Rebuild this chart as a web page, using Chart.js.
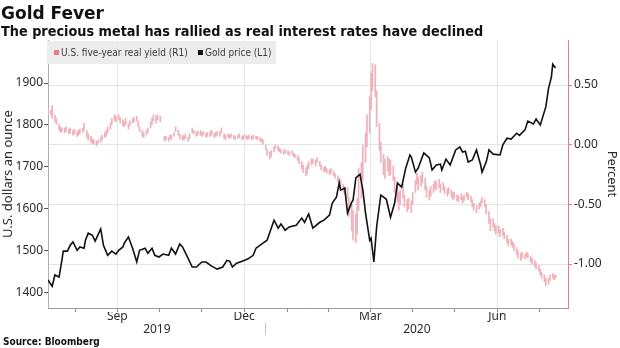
<!DOCTYPE html>
<html>
<head>
<meta charset="utf-8">
<title>Gold Fever</title>
<script src="https://cdn.jsdelivr.net/npm/chart.js@4.4.1/dist/chart.umd.min.js"></script>
<style>
  html, body { margin: 0; padding: 0; background: #fff; }
  #frame { position: relative; width: 620px; height: 348px; overflow: hidden; }
  #chart { position: absolute; left: 0; top: 0; }
  .headline { position: absolute; left: 1px; top: 5px; font: bold 17px "DejaVu Sans", sans-serif; line-height: 17px; color: #111; white-space: nowrap; }
  .dek { position: absolute; left: 1px; top: 24px; font: bold 14.3px "DejaVu Sans Condensed", "DejaVu Sans", sans-serif; line-height: 14.5px; color: #111; white-space: nowrap; }
  .source { position: absolute; left: 3px; top: 337px; font: bold 10px "DejaVu Sans Condensed", "DejaVu Sans", sans-serif; line-height: 10px; color: #111; white-space: nowrap; }
  .legend { position: absolute; left: 47px; top: 41px; width: 229px; height: 23px; background: #ececec; font: 10px "DejaVu Sans Condensed", "DejaVu Sans", sans-serif; color: #3c3c3c; }
  .legend .sw { position: absolute; top: 9px; width: 5px; height: 5px; }
  .legend .txt { position: absolute; top: 0; line-height: 23px; white-space: nowrap; }
</style>
</head>
<body>
<div id="frame">
  <canvas id="chart" width="620" height="348"></canvas>
  <div class="headline">Gold Fever</div>
  <div class="dek">The precious metal has rallied as real interest rates have declined</div>
  <div class="legend">
    <span class="sw" style="left:7px;background:#e27d8a"></span><span class="txt" style="left:14px">U.S. five-year real yield (R1)</span>
    <span class="sw" style="left:151px;background:#111"></span><span class="txt" style="left:158px">Gold price (L1)</span>
  </div>
  <div class="source">Source: Bloomberg</div>
</div>
<script>
// days are counted from 1 Aug 2019
const origin = Date.UTC(2019, 7, 1);
const dayOf = s => (Date.parse(s) - origin) / 864e5;

// gold price, USD an ounce (left axis)
const goldDay = [
  -4, -1, 1, 4, 6, 7, 10, 12, 14, 17, 19, 22, 23, 25, 28, 30, 34, 36, 39, 42,
  45, 47, 50, 51, 54, 57, 60, 62, 66, 68, 71, 73, 76, 79, 83, 85, 88, 91, 93, 96,
  100, 103, 107, 110, 114, 118, 122, 125, 127, 129, 132, 136, 140, 144, 146, 150, 154, 159, 162, 164,
  167, 170, 175, 179, 181, 184, 187, 192, 195, 199, 201, 204, 206, 207, 210, 212, 215, 216, 218, 221,
  223, 225, 228, 229, 231, 233, 236, 238, 240, 243, 246, 248, 251, 254, 257, 258, 261, 263, 267, 271,
  273, 276, 279, 280, 283, 286, 290, 293, 295, 297, 299, 302, 305, 308, 309, 312, 314, 317, 322, 324,
  327, 330, 334, 336, 340, 342, 346, 348, 351, 355, 357, 359, 360, 362
];
const goldPrice = [
  1429, 1414, 1441, 1436, 1476, 1498, 1498, 1512, 1520, 1500, 1508, 1505, 1524, 1541, 1536, 1522, 1551, 1512, 1488, 1498,
  1491, 1500, 1508, 1517, 1532, 1505, 1472, 1500, 1505, 1493, 1505, 1488, 1484, 1491, 1488, 1505, 1491, 1515, 1508, 1488,
  1460, 1460, 1472, 1472, 1462, 1455, 1460, 1476, 1474, 1460, 1469, 1474, 1479, 1488, 1505, 1515, 1524, 1572, 1553, 1563,
  1548, 1556, 1560, 1577, 1567, 1587, 1553, 1567, 1572, 1584, 1613, 1627, 1661, 1644, 1649, 1589, 1615, 1620, 1673, 1682,
  1645, 1589, 1524, 1529, 1472, 1556, 1632, 1627, 1622, 1579, 1613, 1661, 1651, 1697, 1728, 1723, 1687, 1697, 1733, 1721,
  1692, 1704, 1706, 1692, 1718, 1704, 1740, 1747, 1735, 1737, 1711, 1716, 1740, 1704, 1687, 1711, 1740, 1730, 1728, 1752,
  1768, 1766, 1780, 1775, 1788, 1809, 1802, 1814, 1800, 1843, 1888, 1914, 1945, 1936
];

// U.S. five-year real yield, daily low/high in percent (right axis)
const yieldDay = [
  -4, -2, -1, 1, 2, 4, 5, 6, 8, 9,
  11, 12, 14, 15, 17, 18, 19, 21, 22, 24,
  25, 27, 28, 29, 31, 32, 34, 35, 37, 38,
  39, 41, 42, 44, 45, 47, 48, 50, 51, 52,
  54, 55, 57, 58, 60, 61, 62, 64, 65, 67,
  68, 70, 71, 72, 74, 75, 77, 80, 81, 83,
  84, 85, 87, 88, 90, 91, 93, 94, 95, 97,
  98, 100, 101, 103, 104, 106, 107, 108, 110, 111,
  113, 114, 116, 117, 118, 120, 121, 123, 124, 126,
  127, 128, 130, 131, 133, 134, 136, 137, 139, 140,
  141, 143, 144, 146, 147, 149, 150, 151, 153, 154,
  156, 157, 159, 160, 162, 163, 164, 166, 167, 169,
  170, 172, 173, 174, 176, 177, 179, 180, 182, 183,
  184, 186, 187, 189, 190, 192, 193, 195, 196, 197,
  199, 200, 202, 203, 205, 206, 207, 209, 210, 212,
  213, 215, 216, 218, 219, 220, 222, 223, 225, 226,
  228, 229, 230, 232, 233, 235, 236, 238, 239, 241,
  242, 243, 245, 246, 248, 249, 250, 252, 253, 255,
  256, 258, 259, 261, 262, 263, 265, 266, 268, 269,
  271, 272, 274, 275, 276, 278, 279, 281, 282, 284,
  285, 287, 288, 289, 291, 292, 294, 295, 296, 298,
  299, 301, 302, 303, 305, 307, 308, 309, 311, 312,
  314, 315, 317, 318, 319, 321, 322, 324, 325, 327,
  328, 330, 331, 332, 334, 335, 337, 338, 340, 341,
  342, 344, 345, 347, 348, 350, 351, 352, 354, 355,
  357, 358, 360, 361, 362
];
const yieldLow = [
  0.24, 0.25, 0.22, 0.19, 0.17, 0.12, 0.10, 0.11, 0.10, 0.11,
  0.09, 0.10, 0.08, 0.09, 0.07, 0.08, 0.09, 0.10, 0.12, 0.06,
  0.04, 0.02, 0.01, 0.00, -0.01, 0.01, 0.02, 0.04, 0.06, 0.07,
  0.10, 0.13, 0.17, 0.20, 0.19, 0.21, 0.18, 0.16, 0.15, 0.17,
  0.13, 0.16, 0.18, 0.19, 0.20, 0.15, 0.11, 0.07, 0.06, 0.08,
  0.10, 0.14, 0.17, 0.20, 0.18, 0.21, 0.19, 0.03, 0.04, 0.03,
  0.05, 0.04, 0.07, 0.11, 0.08, 0.05, 0.04, 0.04, 0.05, 0.03,
  0.05, 0.10, 0.09, 0.07, 0.08, 0.08, 0.07, 0.08, 0.06, 0.07,
  0.07, 0.08, 0.06, 0.07, 0.08, 0.07, 0.10, 0.05, 0.04, 0.06,
  0.05, 0.06, 0.05, 0.04, 0.05, 0.06, 0.04, 0.05, 0.05, 0.04,
  0.05, 0.04, 0.05, 0.05, 0.04, 0.03, 0.02, 0.00, -0.04, -0.09,
  -0.12, -0.10, -0.06, -0.03, -0.05, -0.06, -0.07, -0.08, -0.07, -0.08,
  -0.09, -0.08, -0.10, -0.11, -0.13, -0.16, -0.20, -0.23, -0.26, -0.24,
  -0.20, -0.17, -0.16, -0.18, -0.15, -0.18, -0.21, -0.23, -0.22, -0.24,
  -0.25, -0.24, -0.26, -0.28, -0.31, -0.34, -0.36, -0.40, -0.42, -0.45,
  -0.60, -0.72, -0.80, -0.82, -0.75, -0.55, -0.45, -0.30, -0.15, -0.02,
  0.10, 0.30, 0.45, 0.40, 0.15, -0.05, -0.15, -0.25, -0.28, -0.22,
  -0.26, -0.25, -0.30, -0.40, -0.48, -0.55, -0.50, -0.45, -0.52, -0.56,
  -0.54, -0.57, -0.50, -0.40, -0.33, -0.38, -0.35, -0.32, -0.38, -0.44,
  -0.46, -0.43, -0.40, -0.37, -0.38, -0.36, -0.40, -0.38, -0.41, -0.43,
  -0.41, -0.44, -0.46, -0.45, -0.47, -0.48, -0.46, -0.49, -0.47, -0.44,
  -0.46, -0.48, -0.52, -0.55, -0.57, -0.54, -0.52, -0.49, -0.52, -0.58,
  -0.66, -0.72, -0.69, -0.72, -0.75, -0.74, -0.77, -0.76, -0.79, -0.82,
  -0.85, -0.84, -0.86, -0.89, -0.92, -0.95, -0.97, -0.95, -0.96, -0.94,
  -0.95, -0.98, -1.00, -1.02, -1.04, -1.06, -1.09, -1.12, -1.15, -1.18,
  -1.17, -1.14, -1.12, -1.13, -1.12
];
const yieldHigh = [
  0.30, 0.29, 0.33, 0.25, 0.22, 0.17, 0.15, 0.14, 0.14, 0.15,
  0.13, 0.14, 0.12, 0.13, 0.11, 0.12, 0.13, 0.14, 0.18, 0.12,
  0.09, 0.07, 0.05, 0.04, 0.03, 0.04, 0.06, 0.08, 0.10, 0.12,
  0.15, 0.18, 0.22, 0.25, 0.24, 0.25, 0.23, 0.21, 0.19, 0.22,
  0.17, 0.20, 0.22, 0.23, 0.24, 0.20, 0.15, 0.12, 0.10, 0.12,
  0.14, 0.19, 0.22, 0.25, 0.24, 0.25, 0.24, 0.07, 0.07, 0.06,
  0.08, 0.08, 0.10, 0.15, 0.12, 0.09, 0.08, 0.07, 0.09, 0.06,
  0.09, 0.14, 0.12, 0.11, 0.11, 0.12, 0.10, 0.11, 0.10, 0.10,
  0.11, 0.12, 0.10, 0.10, 0.11, 0.11, 0.14, 0.09, 0.08, 0.09,
  0.08, 0.09, 0.08, 0.07, 0.08, 0.09, 0.07, 0.08, 0.08, 0.07,
  0.08, 0.07, 0.08, 0.07, 0.07, 0.06, 0.05, 0.04, 0.00, -0.04,
  -0.06, -0.05, -0.02, 0.00, -0.01, -0.03, -0.04, -0.05, -0.04, -0.05,
  -0.06, -0.05, -0.07, -0.08, -0.09, -0.11, -0.14, -0.17, -0.20, -0.17,
  -0.14, -0.12, -0.12, -0.13, -0.11, -0.14, -0.17, -0.19, -0.18, -0.20,
  -0.21, -0.20, -0.22, -0.24, -0.26, -0.28, -0.30, -0.33, -0.36, -0.36,
  -0.44, -0.50, -0.55, -0.58, -0.45, -0.20, -0.15, 0.00, 0.10, 0.25,
  0.40, 0.60, 0.68, 0.67, 0.45, 0.18, 0.02, -0.08, -0.12, -0.10,
  -0.12, -0.13, -0.18, -0.27, -0.35, -0.40, -0.38, -0.33, -0.42, -0.46,
  -0.45, -0.47, -0.40, -0.30, -0.24, -0.27, -0.26, -0.23, -0.28, -0.35,
  -0.38, -0.35, -0.33, -0.30, -0.31, -0.29, -0.33, -0.32, -0.35, -0.37,
  -0.36, -0.38, -0.40, -0.40, -0.42, -0.43, -0.41, -0.44, -0.42, -0.40,
  -0.41, -0.43, -0.46, -0.49, -0.51, -0.49, -0.47, -0.44, -0.46, -0.50,
  -0.56, -0.62, -0.62, -0.66, -0.68, -0.68, -0.71, -0.70, -0.73, -0.76,
  -0.79, -0.79, -0.81, -0.83, -0.86, -0.89, -0.91, -0.90, -0.92, -0.90,
  -0.91, -0.93, -0.95, -0.97, -0.99, -1.01, -1.04, -1.07, -1.09, -1.12,
  -1.12, -1.09, -1.08, -1.09, -1.09
];

// axis ticks and labels
const goldTicks = [1400, 1500, 1600, 1700, 1800, 1900];
const yieldTicks = [-1, -0.5, 0, 0.5];
const months = ['2019-08', '2019-09', '2019-10', '2019-11', '2019-12', '2020-01',
  '2020-02', '2020-03', '2020-04', '2020-05', '2020-06', '2020-07', '2020-08'];
const quarterMonths = ['2019-09', '2019-12', '2020-03', '2020-06'];
const quarterLabels = ['Sep', 'Dec', 'Mar', 'Jun'];
const yearLabels = ['2019', '2020'];

const xMin = dayOf('2019-07-28');
const xMax = dayOf('2020-08-06');
const yearBreak = dayOf('2020-01-01');

const monthStart = m => dayOf(m + '-01');
const nextMonth = m => {
  const [y, mo] = m.split('-').map(Number);
  return Date.UTC(mo === 12 ? y + 1 : y, mo === 12 ? 0 : mo, 1);
};
const monthStarts = months.map(monthStart);
const quarterEnds = quarterMonths.map(m => (nextMonth(m) - origin) / 864e5);
const quarterMids = quarterMonths.map((m, i) => (monthStart(m) + quarterEnds[i]) / 2);
const yearMids = [(xMin + yearBreak) / 2, (yearBreak + xMax) / 2];

const tickFont = { family: '"Noto Sans", sans-serif', size: 12 };
const textColor = '#2a2a2a';
const pink = '#e27d8a';
const hidden = 'rgba(0,0,0,0)';

const goldPoints = goldDay.map((d, i) => ({ x: d, y: goldPrice[i] }));
const yieldBars = yieldDay.map((d, i) => ({ x: d, y: [yieldLow[i], yieldHigh[i]] }));

const fixTicks = values => scale => { scale.ticks = values.map(v => ({ value: v })); };

new Chart(document.getElementById('chart'), {
  type: 'line',
  data: {
    datasets: [
      {
        label: 'Gold price (L1)',
        data: goldPoints,
        xAxisID: 'x',
        yAxisID: 'y',
        borderColor: '#111',
        borderWidth: 1.6,
        pointRadius: 0,
        tension: 0,
        order: 1
      },
      {
        type: 'bar',
        label: 'U.S. five-year real yield (R1)',
        data: yieldBars,
        xAxisID: 'x',
        yAxisID: 'y1',
        backgroundColor: '#efb0b9',
        borderWidth: 0,
        barThickness: 1,
        grouped: false,
        order: 2
      }
    ]
  },
  options: {
    responsive: false,
    animation: false,
    devicePixelRatio: 1,
    layout: { padding: { top: 40, bottom: 12, left: 0, right: 0 } },
    plugins: { legend: { display: false }, tooltip: { enabled: false } },
    scales: {
      // month ticks, quarter gridlines
      x: {
        type: 'linear',
        position: 'bottom',
        weight: 0,
        min: xMin,
        max: xMax,
        offset: false,
        afterBuildTicks: fixTicks(monthStarts),
        ticks: { display: false },
        grid: {
          color: c => (c.tick && quarterEnds.includes(c.tick.value)) ? '#e4e4e4' : hidden,
          tickColor: '#8c8c8c',
          tickLength: 4
        },
        border: { color: '#9c9c9c' },
        afterFit: s => { s.height = 4; }
      },
      xq: {
        type: 'linear',
        position: 'bottom',
        weight: 1,
        min: xMin,
        max: xMax,
        offset: false,
        afterBuildTicks: fixTicks(quarterMids),
        grid: { display: false, drawTicks: false },
        border: { display: false },
        ticks: {
          autoSkip: false,
          maxRotation: 0,
          padding: -3,
          font: tickFont,
          color: textColor,
          callback: (v, i) => quarterLabels[i]
        },
        afterFit: s => { s.height = 11; }
      },
      xy: {
        type: 'linear',
        position: 'bottom',
        weight: 2,
        min: xMin,
        max: xMax,
        offset: false,
        afterBuildTicks: fixTicks([yearMids[0], yearBreak, yearMids[1]]),
        grid: {
          drawOnChartArea: false,
          tickLength: 12,
          tickColor: c => c.index === 1 ? '#c4c4c4' : hidden
        },
        border: { display: false },
        ticks: {
          autoSkip: false,
          maxRotation: 0,
          padding: -13,
          font: tickFont,
          color: textColor,
          callback: (v, i) => i === 1 ? '' : yearLabels[i === 0 ? 0 : 1]
        },
        afterFit: s => { s.height = 13; }
      },
      y: {
        position: 'left',
        min: 1362,
        max: 2003,
        afterBuildTicks: fixTicks(goldTicks),
        grid: { drawOnChartArea: false, tickLength: 4, tickColor: '#555' },
        border: { color: '#b0b0b0' },
        ticks: { padding: 1, font: tickFont, color: textColor, callback: v => String(v) },
        title: {
          display: true,
          text: 'U.S. dollars an ounce',
          font: { family: '"Noto Sans", sans-serif', size: 13 },
          color: textColor,
          padding: { top: 0, bottom: 0 }
        },
        afterFit: s => { s.width = 48; }
      },
      y1: {
        position: 'right',
        min: -1.368,
        max: 0.877,
        afterBuildTicks: fixTicks(yieldTicks),
        grid: { color: '#e4e4e4', tickColor: pink, tickLength: 4 },
        border: { color: pink },
        ticks: { padding: 2, font: tickFont, color: textColor, callback: v => v.toFixed(2) },
        title: {
          display: true,
          text: 'Percent',
          font: { family: '"Noto Sans", sans-serif', size: 13 },
          color: textColor,
          padding: { top: 0, bottom: 0 }
        },
        afterFit: s => { s.width = 52; }
      }
    }
  }
});
</script>
</body>
</html>
